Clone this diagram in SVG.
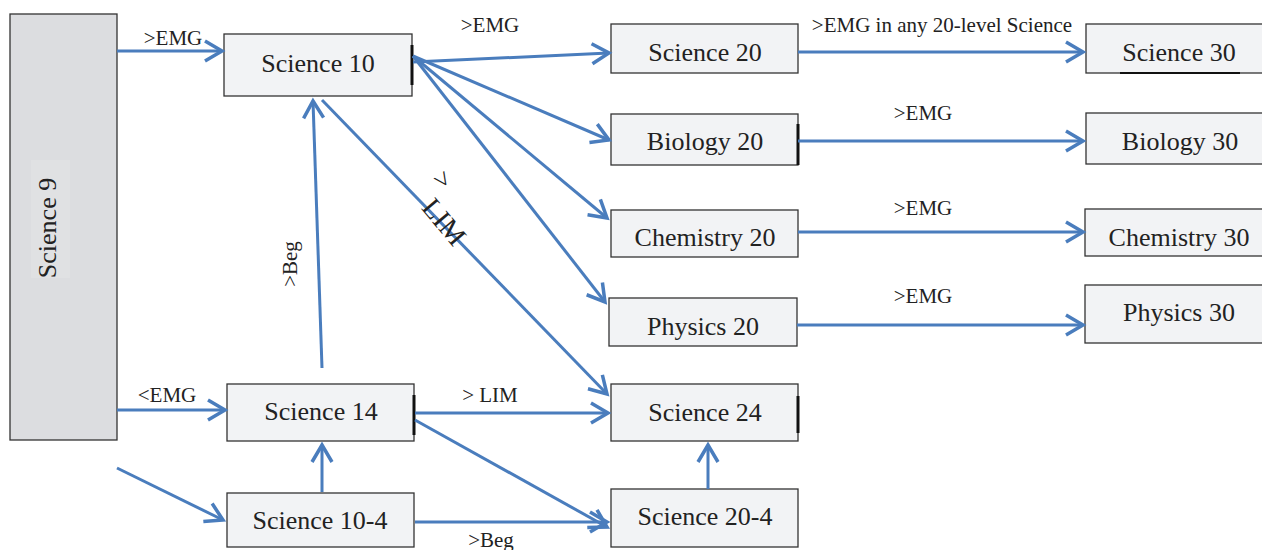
<svg xmlns="http://www.w3.org/2000/svg" width="1262" height="550" viewBox="0 0 1262 550">
<style>
.box{fill:#f2f3f5;stroke:#333;stroke-width:1.3}
.nt{font-family:"Liberation Serif",serif;font-size:26px;fill:#222;text-anchor:middle}
.lb{font-family:"Liberation Serif",serif;font-size:21px;fill:#222;text-anchor:middle}
.c{fill:none;stroke:#4a7dbd;stroke-width:3;marker-end:url(#a)}
.thick{stroke:#111;stroke-width:3}
</style>
<defs>
<marker id="a" viewBox="-22 -13 26 26" refX="0" refY="0" markerWidth="26" markerHeight="26" markerUnits="userSpaceOnUse" orient="auto">
<path d="M-17,-10 L0,0 L-17,10" fill="none" stroke="#4a7dbd" stroke-width="3.5"/>
</marker>
</defs>
<rect width="1262" height="550" fill="#fff"/>
<g id="science9">
<rect x="10" y="14" width="107" height="426" fill="#dcdde0" stroke="#333" stroke-width="1.3"/>
<rect x="31" y="160" width="39" height="118" fill="#e0e1e3"/>
<text class="nt" transform="translate(56,228) rotate(-90)">Science 9</text>
</g>
<g id="science10">
<rect class="box" x="224" y="34" width="188" height="62"/>
<line class="thick" x1="412" y1="45" x2="412" y2="85"/>
<text class="nt" x="318" y="72">Science 10</text>
</g>
<g id="science14">
<rect class="box" x="227" y="384" width="187" height="57"/>
<line class="thick" x1="414" y1="395" x2="414" y2="435"/>
<text class="nt" x="321" y="420">Science 14</text>
</g>
<g id="science10-4">
<rect class="box" x="227" y="493" width="187" height="54"/>
<text class="nt" x="320" y="529">Science 10-4</text>
</g>
<g id="science20">
<rect class="box" x="611" y="24" width="187" height="49"/>
<text class="nt" x="705" y="61">Science 20</text>
</g>
<g id="biology20">
<rect class="box" x="611" y="114" width="187" height="51"/>
<line class="thick" x1="798" y1="124" x2="798" y2="165"/>
<text class="nt" x="705" y="150">Biology 20</text>
</g>
<g id="chemistry20">
<rect class="box" x="611" y="210" width="187" height="47"/>
<text class="nt" x="705" y="246">Chemistry 20</text>
</g>
<g id="physics20">
<rect class="box" x="609" y="298" width="188" height="48"/>
<text class="nt" x="703" y="335">Physics 20</text>
</g>
<g id="science24">
<rect class="box" x="611" y="384" width="187" height="57"/>
<line class="thick" x1="798" y1="396" x2="798" y2="433"/>
<text class="nt" x="705" y="421">Science 24</text>
</g>
<g id="science20-4">
<rect class="box" x="611" y="489" width="187" height="58"/>
<text class="nt" x="705" y="525">Science 20-4</text>
</g>
<g id="science30">
<rect class="box" x="1086" y="24" width="177" height="49"/>
<line class="thick" x1="1120" y1="73" x2="1240" y2="73" style="stroke-width:2"/>
<text class="nt" x="1179" y="61">Science 30</text>
</g>
<g id="biology30">
<rect class="box" x="1086" y="113" width="177" height="51"/>
<text class="nt" x="1180" y="150">Biology 30</text>
</g>
<g id="chemistry30">
<rect class="box" x="1085" y="209" width="178" height="47"/>
<text class="nt" x="1179" y="246">Chemistry 30</text>
</g>
<g id="physics30">
<rect class="box" x="1085" y="285" width="178" height="58"/>
<text class="nt" x="1179" y="321">Physics 30</text>
</g>
<g id="connectors">
<path class="c" d="M117,51 L222,51"/>
<path class="c" d="M117,410 L225,410"/>
<path class="c" d="M117,468 L223,520"/>
<path class="c" d="M413,62 L609,53"/>
<path class="c" d="M413,56 L609,140"/>
<path class="c" d="M413,56 L607,218"/>
<path class="c" d="M413,56 L605,302"/>
<path class="c" d="M322,100 L607,394"/>
<path class="c" d="M322,368 L313,101"/>
<path class="c" d="M415,413 L608,413"/>
<path class="c" d="M415,420 L607,527"/>
<path class="c" d="M322,492 L322,445"/>
<path class="c" d="M415,522 L607,522"/>
<path class="c" d="M708,489 L708,445"/>
<path class="c" d="M798,52 L1083,52"/>
<path class="c" d="M798,141 L1083,141"/>
<path class="c" d="M798,232 L1083,232"/>
<path class="c" d="M797,325 L1083,325"/>
</g>
<g id="labels">
<text class="lb" x="173" y="45">&gt;EMG</text>
<text class="lb" x="167" y="402">&lt;EMG</text>
<text class="lb" x="490" y="32">&gt;EMG</text>
<text class="lb" x="942" y="32">&gt;EMG in any 20-level Science</text>
<text class="lb" x="923" y="120">&gt;EMG</text>
<text class="lb" x="923" y="215">&gt;EMG</text>
<text class="lb" x="923" y="303">&gt;EMG</text>
<text class="lb" x="490" y="402">&gt; LIM</text>
<text class="lb" x="491" y="547">&gt;Beg</text>
<text class="lb" transform="translate(297,264) rotate(-90)">&gt;Beg</text>
<text class="lb" style="font-size:27px" transform="translate(435,185) rotate(55)">&gt;</text>
<text class="lb" style="font-size:28px" transform="translate(437,228) rotate(50)">LIM</text>
</g>
</svg>
